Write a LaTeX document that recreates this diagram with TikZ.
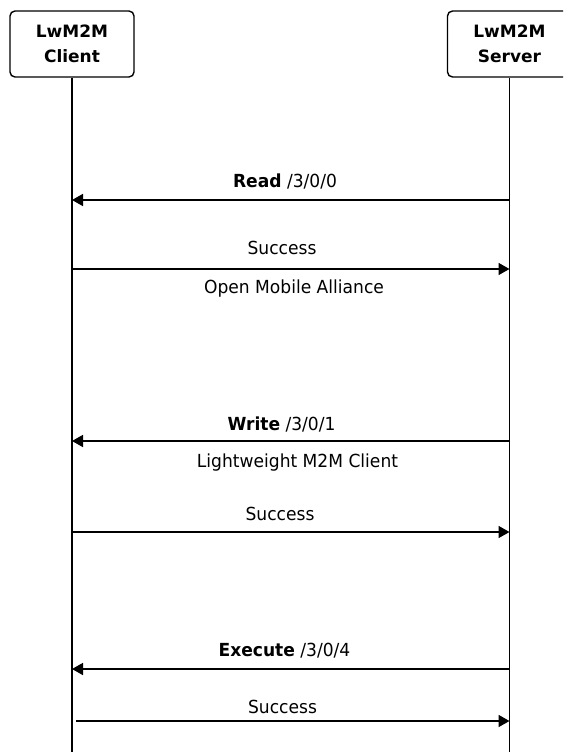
\documentclass[tikz,border=0pt]{standalone}
\usepackage{fontspec}
\setmainfont{DejaVu Sans}
\newfontfamily\lblfont[FakeStretch=0.95]{DejaVu Sans}
\usetikzlibrary{arrows.meta}
\begin{document}
\begin{tikzpicture}[x=1pt,y=-1pt,
  actor/.style={draw, line width=1.4pt, rounded corners=5pt, minimum width=124pt, minimum height=66pt, align=center, font=\fontsize{17}{25}\selectfont\bfseries, inner sep=0pt},
  life/.style={line width=1.7pt},
  msg/.style={line width=1.6pt, -{Triangle[length=11pt,width=12pt]}},
  lbl/.style={anchor=base, inner sep=0pt, font=\lblfont\fontsize{18}{20}\selectfont}]
\clip (0,0) rectangle (563,752);
\useasboundingbox (0,0) rectangle (563,752);
\fill[white] (0,0) rectangle (563,752);
% actors
\node[actor] (cbox) at (72,44) {LwM2M\\Client};
\node[actor] (sbox) at (509.5,44) {LwM2M\\Server};
\coordinate (cend) at (72,752);
\coordinate (send) at (509.5,752);
\draw[life] (cbox.south) -- (cend);
\draw[life] (sbox.south) -- (send);
% message end points
\coordinate (c1) at (72,200);  \coordinate (s1) at (509.5,200);
\coordinate (c2) at (72,269);  \coordinate (s2) at (509.5,269);
\coordinate (c3) at (72,441);  \coordinate (s3) at (509.5,441);
\coordinate (c4) at (72,532);  \coordinate (s4) at (509.5,532);
\coordinate (c5) at (72,669);  \coordinate (s5) at (509.5,669);
\coordinate (c6) at (76,721);  \coordinate (s6) at (509.5,721);
% messages
\draw[msg] (s1) -- (c1);
\draw[msg] (c2) -- (s2);
\draw[msg] (s3) -- (c3);
\draw[msg] (c4) -- (s4);
\draw[msg] (s5) -- (c5);
\draw[msg] (c6) -- (s6);
% labels
\node[lbl] (l1) at (285,187) {\textbf{Read} /3/0/0};
\node[lbl] (l2) at (282,254) {Success};
\node[lbl] (l3) at (294,293.5) {Open Mobile Alliance};
\node[lbl] (l4) at (281.5,430) {\textbf{Write} /3/0/1};
\node[lbl] (l5) at (297.5,467.5) {Lightweight M2M Client};
\node[lbl] (l6) at (280,520) {Success};
\node[lbl] (l7) at (284.5,656) {\textbf{Execute} /3/0/4};
\node[lbl] (l8) at (282.5,713) {Success};
\end{tikzpicture}
\end{document}
